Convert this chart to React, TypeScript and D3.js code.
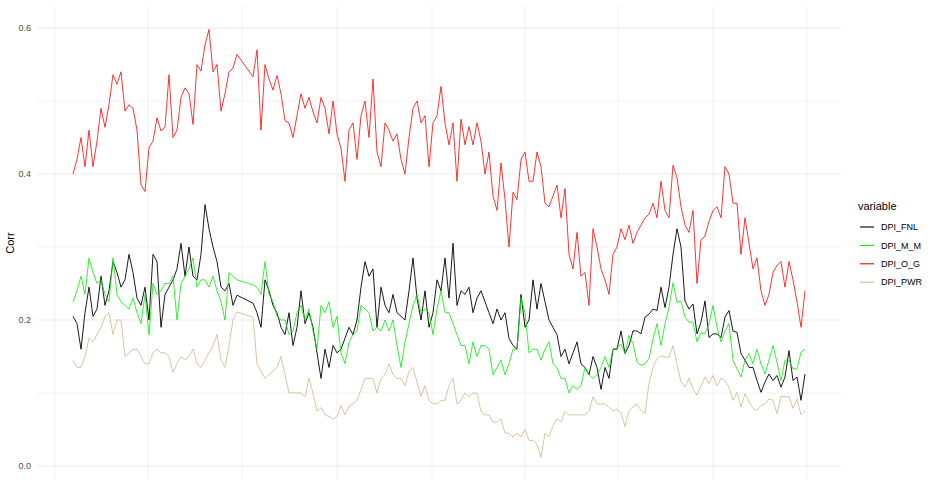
import React from "react";
import * as d3 from "d3";

// observation index (a few observations are missing around index 42-44)
const obsIndex: number[] = [...d3.range(0, 42), ...d3.range(45, 184)];

const seriesNames = ["DPI_FNL", "DPI_M_M", "DPI_O_G", "DPI_PWR"];
const seriesColors = ["#000000", "#00EE00", "#FF0000", "#D2B48C"];

const DPI_FNL = [
  0.205,0.195,0.16,0.21,0.245,0.205,0.215,0.26,0.22,0.24,0.28,0.265,0.245,0.255,0.29,0.265,0.23,0.22,0.245,0.20,0.29,0.28,0.19,0.235,0.245,0.255,0.27,0.305,0.26,0.30,0.26,0.255,0.29,0.358,0.325,0.30,0.28,0.245,0.24,0.25,0.22,0.234,
  0.223,0.21,0.19,0.255,0.24,0.22,0.21,0.19,0.18,0.21,0.165,0.19,0.24,0.195,0.21,0.19,0.155,0.12,0.16,0.135,0.165,0.155,0.16,0.175,0.19,0.18,0.20,0.245,0.28,0.26,0.27,0.19,0.245,0.22,0.21,0.235,0.21,0.205,0.20,0.24,0.285,0.23,0.20,0.24,0.19,0.21,
  0.255,0.24,0.285,0.23,0.305,0.22,0.24,0.235,0.245,0.21,0.23,0.24,0.225,0.21,0.195,0.215,0.20,0.21,0.175,0.165,0.16,0.235,0.19,0.20,0.255,0.215,0.25,0.225,0.20,0.19,0.18,0.15,0.16,0.14,0.155,0.17,0.14,0.135,0.125,0.15,0.135,0.105,0.135,0.12,0.16,0.16,
  0.185,0.154,0.165,0.185,0.185,0.181,0.204,0.208,0.215,0.213,0.245,0.217,0.245,0.29,0.325,0.30,0.226,0.215,0.222,0.181,0.197,0.226,0.176,0.181,0.181,0.176,0.204,0.213,0.185,0.183,0.154,0.145,0.135,0.135,0.117,0.101,0.115,0.126,0.117,0.124,0.108,0.122,0.158,0.117,0.122,0.09,0.126,
];

const DPI_M_M = [
  0.225,0.24,0.26,0.235,0.285,0.265,0.25,0.255,0.235,0.225,0.285,0.235,0.225,0.22,0.215,0.23,0.21,0.195,0.235,0.18,0.25,0.235,0.24,0.25,0.25,0.26,0.20,0.25,0.26,0.27,0.285,0.245,0.255,0.255,0.245,0.26,0.24,0.225,0.20,0.265,0.26,0.255,
  0.248,0.245,0.235,0.28,0.235,0.225,0.205,0.2,0.2,0.18,0.185,0.21,0.22,0.2,0.215,0.185,0.16,0.22,0.21,0.225,0.19,0.205,0.155,0.14,0.17,0.18,0.185,0.22,0.215,0.21,0.185,0.19,0.185,0.2,0.185,0.2,0.165,0.135,0.17,0.195,0.22,0.235,0.21,0.215,0.21,0.18,
  0.215,0.24,0.21,0.21,0.195,0.18,0.165,0.165,0.14,0.17,0.15,0.165,0.165,0.16,0.125,0.135,0.145,0.125,0.14,0.16,0.16,0.23,0.21,0.155,0.16,0.16,0.145,0.16,0.17,0.14,0.135,0.12,0.12,0.1,0.11,0.105,0.11,0.135,0.125,0.12,0.125,0.135,0.15,0.135,0.16,0.162,
  0.167,0.154,0.179,0.168,0.142,0.138,0.14,0.147,0.174,0.195,0.165,0.195,0.217,0.251,0.224,0.226,0.204,0.197,0.197,0.17,0.183,0.181,0.195,0.22,0.19,0.17,0.185,0.195,0.145,0.133,0.122,0.145,0.154,0.14,0.16,0.14,0.126,0.145,0.165,0.142,0.117,0.145,0.145,0.133,0.133,0.156,0.16,
];

const DPI_O_G = [
  0.40,0.42,0.45,0.41,0.46,0.41,0.445,0.49,0.464,0.495,0.536,0.523,0.54,0.486,0.495,0.49,0.46,0.385,0.376,0.436,0.445,0.477,0.459,0.464,0.536,0.45,0.46,0.505,0.518,0.51,0.468,0.55,0.541,0.577,0.598,0.54,0.55,0.486,0.51,0.54,0.545,0.564,
  0.533,0.57,0.46,0.55,0.53,0.515,0.535,0.51,0.473,0.47,0.45,0.48,0.51,0.49,0.505,0.485,0.47,0.505,0.49,0.455,0.50,0.455,0.435,0.39,0.46,0.47,0.42,0.48,0.50,0.45,0.53,0.43,0.41,0.47,0.46,0.445,0.455,0.42,0.40,0.45,0.49,0.50,0.47,0.48,0.41,0.47,
  0.48,0.52,0.47,0.44,0.47,0.39,0.475,0.44,0.465,0.44,0.47,0.445,0.40,0.43,0.37,0.35,0.415,0.365,0.30,0.375,0.365,0.42,0.43,0.39,0.39,0.43,0.41,0.36,0.355,0.37,0.385,0.34,0.38,0.29,0.27,0.32,0.26,0.265,0.22,0.325,0.30,0.27,0.255,0.235,0.29,0.30,
  0.325,0.31,0.33,0.305,0.32,0.33,0.34,0.345,0.36,0.34,0.39,0.35,0.34,0.412,0.395,0.355,0.33,0.32,0.35,0.25,0.31,0.315,0.335,0.35,0.355,0.34,0.41,0.40,0.36,0.36,0.29,0.34,0.305,0.27,0.285,0.24,0.22,0.235,0.265,0.275,0.28,0.245,0.28,0.255,0.225,0.19,0.24,
];

const DPI_PWR = [
  0.145,0.135,0.135,0.15,0.175,0.17,0.18,0.19,0.205,0.21,0.18,0.2,0.2,0.15,0.155,0.16,0.16,0.15,0.14,0.14,0.155,0.16,0.155,0.155,0.15,0.128,0.14,0.15,0.145,0.15,0.16,0.14,0.135,0.145,0.155,0.165,0.18,0.145,0.135,0.165,0.2,0.211,
  0.204,0.14,0.13,0.12,0.125,0.13,0.135,0.15,0.125,0.1,0.1,0.1,0.1,0.095,0.12,0.1,0.075,0.08,0.07,0.068,0.064,0.068,0.083,0.07,0.082,0.085,0.09,0.105,0.12,0.12,0.12,0.1,0.12,0.125,0.14,0.125,0.12,0.12,0.11,0.13,0.135,0.115,0.095,0.11,0.09,0.085,
  0.085,0.09,0.09,0.11,0.12,0.085,0.09,0.1,0.095,0.1,0.1,0.075,0.07,0.07,0.06,0.06,0.065,0.045,0.045,0.04,0.045,0.04,0.05,0.035,0.035,0.03,0.012,0.045,0.04,0.055,0.065,0.06,0.075,0.07,0.07,0.07,0.07,0.07,0.075,0.095,0.085,0.085,0.085,0.08,0.075,0.078,
  0.072,0.054,0.076,0.081,0.085,0.076,0.072,0.113,0.135,0.147,0.151,0.149,0.149,0.165,0.14,0.115,0.108,0.12,0.106,0.097,0.11,0.122,0.113,0.124,0.11,0.12,0.117,0.108,0.09,0.101,0.081,0.099,0.088,0.079,0.076,0.083,0.085,0.092,0.09,0.072,0.095,0.095,0.095,0.079,0.092,0.07,0.076,
];

const seriesValues = [DPI_FNL, DPI_M_M, DPI_O_G, DPI_PWR];

const yMajorTicks = [0, 0.2, 0.4, 0.6];
const yMinorTicks = [0.1, 0.3, 0.5];
const xGridBreaks = [-4.5, 18.75, 42.25, 66, 89.75, 113, 136.25, 160, 183.5];

const W = 933;
const H = 480;
const FONT = "'Liberation Sans', Arial, Helvetica, sans-serif";

export default function App() {
  const panel = { left: 37, right: 841, top: 6, bottom: 482 };
  const x = d3.scaleLinear().domain([0, 183]).range([73, 805]);
  const y = d3.scaleLinear().domain([0, 0.6]).range([466, 28]);

  const line = d3
    .line<[number, number]>()
    .x((d) => x(d[0]))
    .y((d) => y(d[1]));

  const legendX = 858;
  const legendTitleY = 210;
  const legendRowY0 = 227;
  const legendRowStep = 18.4;

  return (
    <svg
      width={W}
      height={H}
      style={{ position: "absolute", left: 0, top: 0, background: "#fff" }}
    >
      <rect x={0} y={0} width={W} height={H} fill="#fff" />
      {/* minor horizontal grid */}
      {yMinorTicks.map((v) => (
        <line key={"ym" + v} x1={panel.left} x2={panel.right} y1={y(v)} y2={y(v)} stroke="#EEEEEE" strokeWidth={0.8} />
      ))}
      {/* vertical grid */}
      {xGridBreaks.map((v, i) => (
        <line key={"xg" + i} x1={x(v)} x2={x(v)} y1={panel.top} y2={H} stroke="#EEEEEE" strokeWidth={i % 2 === 0 ? 0.8 : 1} />
      ))}
      {/* major horizontal grid */}
      {yMajorTicks.map((v) => (
        <line key={"yM" + v} x1={panel.left} x2={panel.right} y1={y(v)} y2={y(v)} stroke="#EBEBEB" strokeWidth={1} />
      ))}
      {/* y tick labels */}
      {yMajorTicks.map((v) => (
        <text key={"yl" + v} x={31} y={y(v)} dy="0.35em" textAnchor="end" fontFamily={FONT} fontSize={9} fill="#4D4D4D">
          {d3.format(".1f")(v)}
        </text>
      ))}
      {/* y axis title */}
      <text
        transform={`translate(14,${(panel.top + 480) / 2}) rotate(-90)`}
        textAnchor="middle"
        fontFamily={FONT}
        fontSize={11}
        fill="#000"
      >
        Corr
      </text>
      {/* series lines */}
      {seriesValues.map((vals, si) => {
        const pts: [number, number][] = vals.map((v, i) => [obsIndex[i], v]);
        return (
          <path
            key={seriesNames[si]}
            d={line(pts) || ""}
            fill="none"
            stroke={seriesColors[si]}
            strokeWidth={si === 0 ? 0.9 : 0.8}
            strokeLinejoin="round"
          />
        );
      })}
      {/* legend */}
      <text x={legendX} y={legendTitleY} fontFamily={FONT} fontSize={11} fill="#000">
        variable
      </text>
      {seriesNames.map((name, i) => {
        const cy = legendRowY0 + i * legendRowStep;
        return (
          <g key={"lg" + name}>
            <line x1={860} x2={874} y1={cy} y2={cy} stroke={seriesColors[i]} strokeWidth={1.1} />
            <text x={881} y={cy} dy="0.35em" fontFamily={FONT} fontSize={9} fill="#000">
              {name}
            </text>
          </g>
        );
      })}
    </svg>
  );
}
